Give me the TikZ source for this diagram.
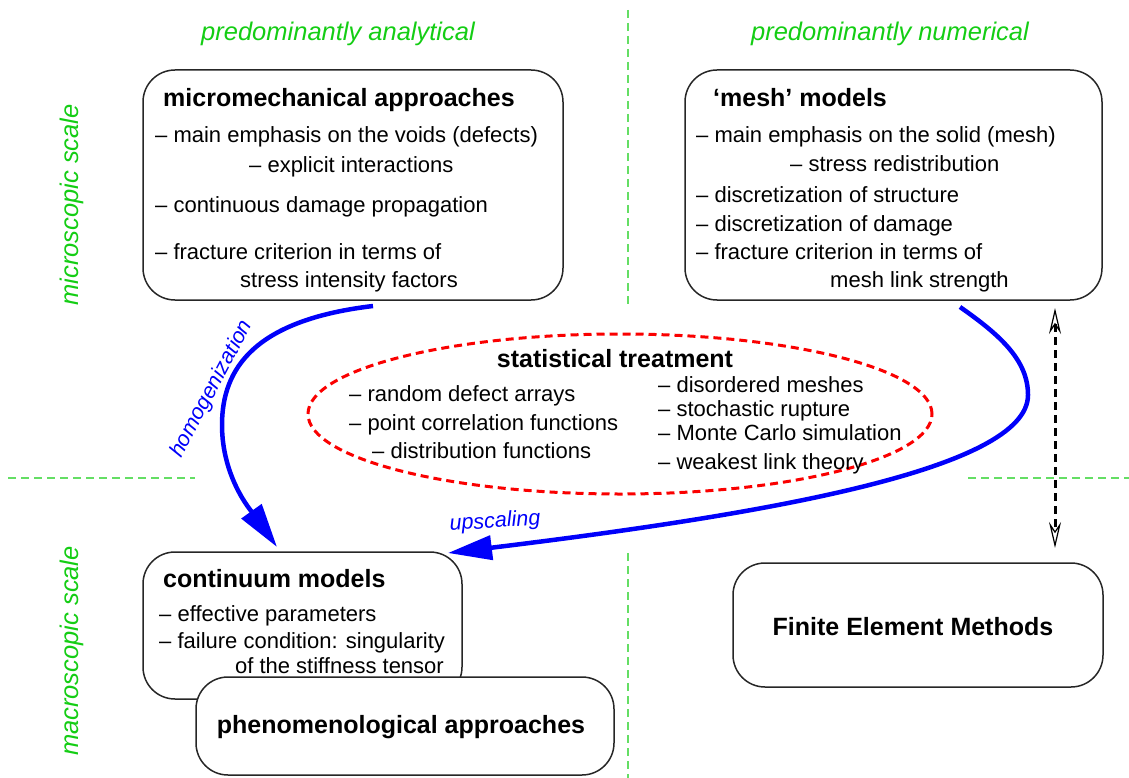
\documentclass[tikz,border=0pt]{standalone}
\usepackage{fontspec}
\setmainfont{Liberation Sans}
\usetikzlibrary{arrows.meta,shapes.geometric}
\definecolor{labelgreen}{RGB}{20,205,20}
\definecolor{gridgreen}{RGB}{100,222,100}
\definecolor{flowblue}{RGB}{0,0,250}
\definecolor{statred}{RGB}{250,0,0}

\begin{document}
\begin{tikzpicture}[x=1pt,y=-1pt,
  panel/.style={draw=black!85, line width=1.5pt, rounded corners=32pt, fill=white, inner sep=0pt},
  body/.style={anchor=base west, inner sep=0pt, font=\fontsize{22}{26}\selectfont},
  head/.style={anchor=base west, inner sep=0pt, font=\bfseries\fontsize{25}{30}\selectfont},
  scalelabel/.style={text=labelgreen, inner sep=0pt, font=\itshape\fontsize{25.5}{30}\selectfont},
  guide/.style={draw=gridgreen, line width=1.3pt, dash pattern=on 8pt off 5pt},
  flow/.style={draw=flowblue, line width=4.5pt, -{Triangle[length=44pt,width=24pt]}},
  flowlabel/.style={text=flowblue, inner sep=0pt, font=\itshape\fontsize{21.5}{26}\selectfont},
  link/.style={draw=black, line width=3pt, dash pattern=on 8pt off 5pt,
    {Stealth[open,length=26pt,width=12pt,inset=9pt,line width=1.2pt]}-{Stealth[open,length=26pt,width=12pt,inset=9pt,line width=1.2pt]}},
]
\useasboundingbox (0,0) rectangle (1129,778);

% quadrant guides
\draw[guide] (628,10) -- (628,305);
\draw[guide] (628,553) -- (628,778);
\draw[guide] (8,478) -- (195,478);
\draw[guide] (968,478) -- (1129,478);

% column and row captions
\node[scalelabel, anchor=base] (capA) at (338,41) {predominantly analytical};
\node[scalelabel, anchor=base] (capN) at (890,41) {predominantly numerical};
\node[scalelabel, anchor=base, rotate=90] (capMicro) at (78,205) {microscopic scale};
\node[scalelabel, anchor=base, rotate=90] (capMacro) at (78,651) {macroscopic scale};

% micromechanical approaches
\node[panel, minimum width=420pt, minimum height=230pt] (micro) at (353,185) {};
\node[head] (microT) at (163,107) {micromechanical approaches};
\node[body] (micro1) at (155,143) {– main emphasis on the voids (defects)};
\node[body] (micro2) at (249,173) {– explicit interactions};
\node[body] (micro3) at (155,212) {– continuous damage propagation};
\node[body] (micro4) at (155,259) {– fracture criterion in terms of};
\node[body] (micro5) at (240,287) {stress intensity factors};

% mesh models
\node[panel, minimum width=417pt, minimum height=230pt] (mesh) at (893.5,185) {};
\node[head] (meshT) at (713,107) {‘mesh’ models};
\node[body] (mesh1) at (696,143) {– main emphasis on the solid (mesh)};
\node[body] (mesh2) at (790,172) {– stress redistribution};
\node[body] (mesh3) at (696,202) {– discretization of structure};
\node[body] (mesh4) at (696,231) {– discretization of damage};
\node[body] (mesh5) at (696,259) {– fracture criterion in terms of};
\node[body] (mesh6) at (830,287) {mesh link strength};

% statistical treatment
\node[ellipse, draw=statred, line width=3pt, dash pattern=on 8pt off 5pt,
      minimum width=624pt, minimum height=160pt, inner sep=0pt] (stat) at (620,414) {};
\node[head, anchor=base] (statT) at (615,367) {statistical treatment};
\node[body] (stat1) at (349,401) {– random defect arrays};
\node[body] (stat2) at (349,430) {– point correlation functions};
\node[body] (stat3) at (372,458) {– distribution functions};
\node[body] (stat4) at (658,392) {– disordered meshes};
\node[body] (stat5) at (658,416) {– stochastic rupture};
\node[body] (stat6) at (658,440) {– Monte Carlo simulation};
\node[body] (stat7) at (658,469) {– weakest link theory};

% continuum and phenomenological models
\node[panel, minimum width=319pt, minimum height=147pt] (cont) at (302.5,625.5) {};
\node[head] (contT) at (163,587) {continuum models};
\node[body] (cont1) at (159,621) {– effective parameters};
\node[body] (cont2) at (159,648) {– failure condition: singularity};
\node[body, anchor=base east] (cont3) at (444,673) {of the stiffness tensor};
\node[panel, minimum width=418pt, minimum height=98pt] (phen) at (405,726) {};
\node[head, anchor=base] (phenT) at (401,733) {phenomenological approaches};

% finite element methods
\node[panel, minimum width=370pt, minimum height=124pt] (fem) at (918,625) {};
\node[head, anchor=base] (femT) at (913,635) {Finite Element Methods};

% transitions between scales
\coordinate (homStart) at (373,306);
\coordinate (homMid) at (222,425);
\coordinate (homEnd) at (277,547);
\draw[flow] (homStart) .. controls (255,320) and (222,368) .. (homMid)
  .. controls (222,478) and (252,512) .. (homEnd);
\node[flowlabel, rotate=62] (homLabel) at (212,389) {homogenization};

\coordinate (upStart) at (960,307);
\coordinate (upMid) at (1028,395);
\coordinate (upEnd) at (448,553);
\draw[flow] (upStart) .. controls (1000,335) and (1028,360) .. (upMid)
  .. controls (1028,470) and (760,515) .. (upEnd);
\node[flowlabel, rotate=4] (upLabel) at (495,522) {upscaling};

\coordinate (linkTop) at (1055,308);
\coordinate (linkBottom) at (1055,548);
\draw[link] (linkTop) -- (linkBottom);

\end{tikzpicture}
\end{document}
